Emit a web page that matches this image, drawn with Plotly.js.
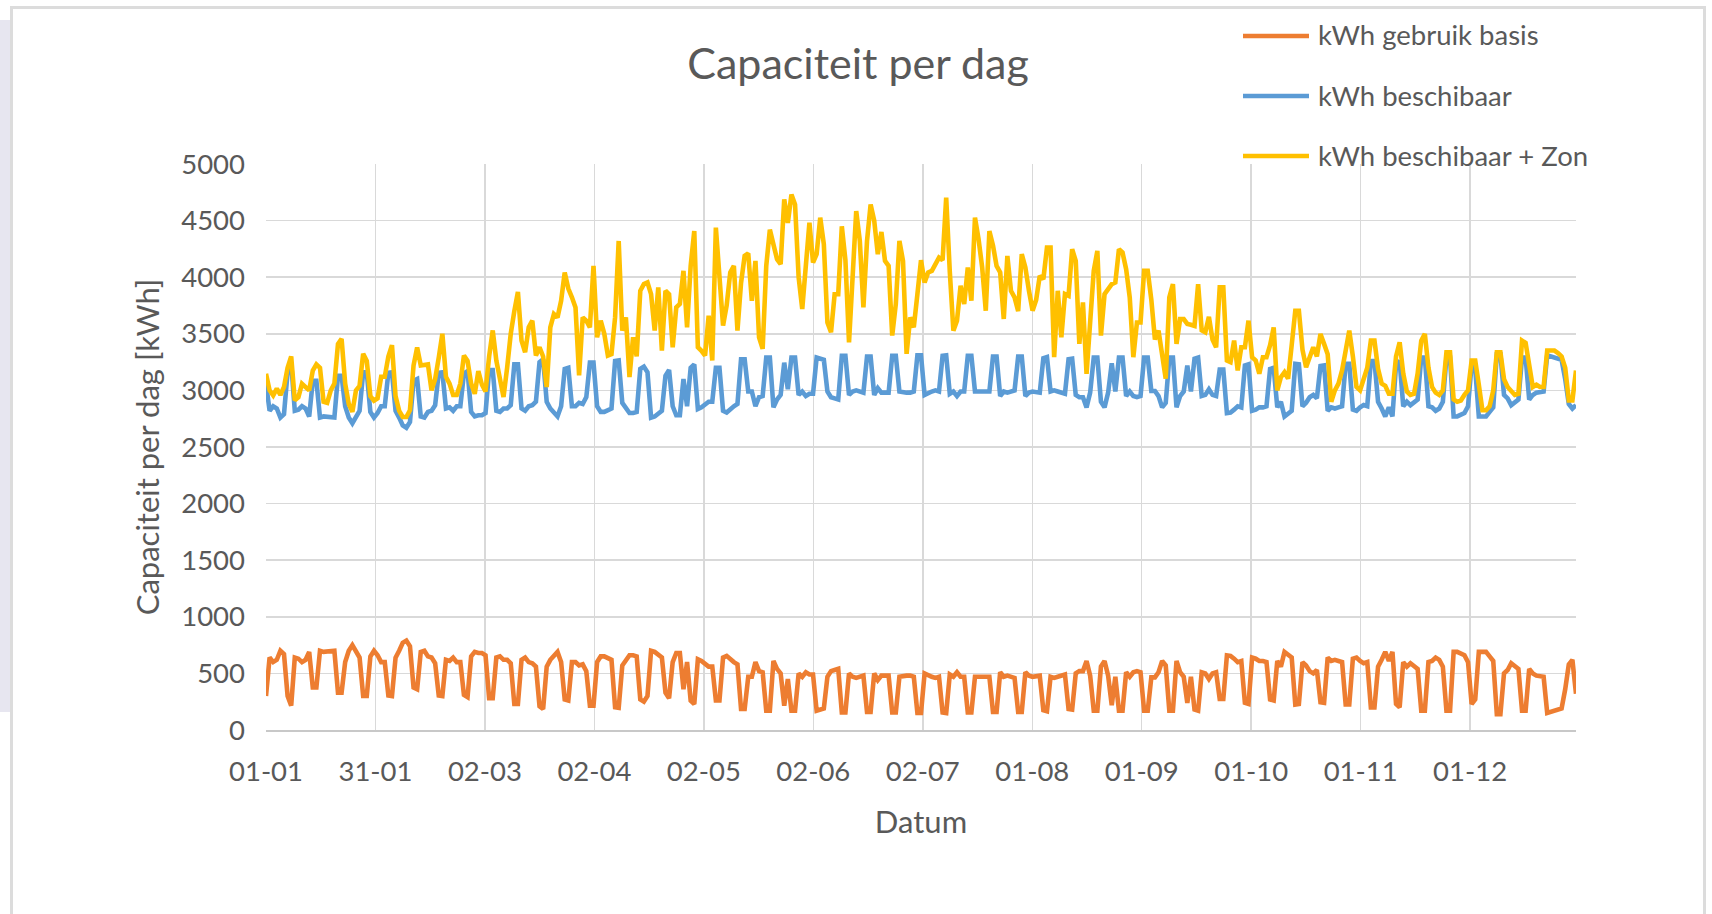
<!DOCTYPE html>
<html><head><meta charset="utf-8">
<script src="https://cdn.plot.ly/plotly-3.0.1.min.js"></script>
<style>
html,body{margin:0;padding:0;width:1712px;height:914px;overflow:hidden;background:#fff;}
#stripe{position:absolute;left:0;top:20px;width:12px;height:692px;background:#e7e6f0;}
#card{position:absolute;left:10px;top:6px;width:1696px;height:930px;border:3px solid #dcdcdc;box-sizing:border-box;background:#fff;}
#chart{position:absolute;left:0;top:0;width:1712px;height:914px;}
</style></head>
<body><div id="stripe"></div><div id="card"></div><div id="chart"></div>
<script>
// Day-by-day values (day 0 = 01-01)
const kwhGebruikBasis = [300,
640,600,620,700,670,300,215,
640,630,600,620,690,375,375,
700,690,690,700,700,330,330,
600,700,750,690,640,300,300,
650,700,660,600,600,305,300,
640,700,770,790,740,375,360,
690,700,650,640,590,305,300,
620,610,640,600,600,310,290,
650,690,680,680,660,280,280,
640,650,620,620,590,230,230,
620,640,600,590,560,210,185,
560,620,650,690,600,270,260,
600,600,570,580,520,215,215,
600,650,650,640,620,200,195,
570,620,660,660,650,270,250,
300,700,690,660,640,330,280,
600,680,680,360,600,260,230,
625,610,590,560,560,260,260,
640,655,620,600,580,185,185,
470,470,600,520,510,170,170,
610,540,500,215,450,170,170,
500,470,510,490,490,170,175,
190,470,520,530,540,155,155,
500,470,460,470,480,160,160,
500,440,480,480,480,155,155,
470,480,480,480,470,150,150,
500,480,470,460,470,155,150,
490,470,510,470,470,155,155,
470,470,470,480,470,160,160,
510,470,480,470,460,160,160,
510,480,470,470,480,175,165,
470,460,470,480,490,185,180,
500,520,520,610,480,170,170,
560,610,480,220,470,170,170,
510,470,510,520,510,170,170,
465,465,510,610,570,170,170,
610,510,470,240,470,180,170,
510,500,450,500,510,275,275,
660,655,630,600,610,240,230,
640,630,610,610,600,270,260,
610,560,690,660,640,225,230,
600,570,520,500,530,245,240,
640,610,620,610,600,225,225,
630,640,610,590,600,200,200,
560,620,690,610,690,230,200,
600,560,590,560,540,170,170,
600,610,640,620,560,170,170,
690,690,680,660,600,230,270,
690,690,690,650,610,140,140,
500,530,590,560,540,170,170,
540,500,480,480,470,150,160,
160,170,190,360,580,620,320];

const kwhBeschikbaar = [3060,
2820,2860,2840,2760,2790,3160,3245,
2820,2830,2860,2840,2770,3085,3085,
2760,2770,2770,2760,2760,3130,3130,
2860,2760,2710,2770,2820,3160,3160,
2810,2760,2800,2860,2860,3155,3160,
2820,2760,2690,2670,2720,3085,3100,
2770,2760,2810,2820,2870,3155,3160,
2840,2850,2820,2860,2860,3150,3170,
2810,2770,2780,2780,2800,3180,3180,
2820,2810,2840,2840,2870,3230,3230,
2840,2820,2860,2870,2900,3250,3275,
2900,2840,2810,2770,2860,3190,3200,
2860,2860,2890,2880,2940,3245,3245,
2860,2810,2810,2820,2840,3260,3265,
2890,2840,2800,2800,2810,3190,3210,
3160,2760,2770,2800,2820,3130,3180,
2860,2780,2780,3100,2860,3200,3230,
2835,2850,2870,2900,2900,3200,3200,
2820,2805,2840,2860,2880,3275,3275,
2990,2990,2860,2940,2950,3290,3290,
2850,2920,2960,3245,3010,3290,3290,
2960,2990,2950,2970,2970,3290,3285,
3270,2990,2940,2930,2920,3305,3305,
2960,2990,3000,2990,2980,3300,3300,
2960,3020,2980,2980,2980,3305,3305,
2990,2980,2980,2980,2990,3310,3310,
2960,2980,2990,3000,2990,3305,3310,
2970,2990,2950,2990,2990,3305,3305,
2990,2990,2990,2980,2990,3300,3300,
2950,2990,2980,2990,3000,3300,3300,
2950,2980,2990,2990,2980,3285,3295,
2990,3000,2990,2980,2970,3275,3280,
2960,2940,2940,2850,2980,3290,3290,
2900,2850,2980,3240,2990,3290,3290,
2950,2990,2950,2940,2950,3290,3290,
2995,2995,2950,2850,2890,3290,3290,
2850,2950,2990,3220,2990,3280,3290,
2950,2960,3010,2960,2950,3185,3185,
2800,2805,2830,2860,2850,3220,3230,
2820,2830,2850,2850,2860,3190,3200,
2850,2900,2770,2800,2820,3235,3230,
2860,2890,2940,2960,2930,3215,3220,
2820,2850,2840,2850,2860,3235,3235,
2830,2820,2850,2870,2860,3260,3260,
2900,2840,2770,2850,2770,3230,3260,
2860,2900,2870,2900,2920,3290,3290,
2860,2850,2820,2840,2900,3290,3290,
2770,2770,2780,2800,2860,3230,3190,
2770,2770,2770,2810,2850,3320,3320,
2960,2930,2870,2900,2920,3290,3290,
2920,2960,2980,2980,2990,3310,3300,
3300,3290,3270,3100,2880,2840,2870];

const kwhBeschikbaarZon = [3147,
3000,2956,3015,2960,3030,3200,3300,
2912,2940,3059,3030,3000,3176,3230,
3200,2900,2890,3000,3060,3410,3455,
3060,2880,2810,3000,3040,3323,3260,
2950,2910,2930,3120,3120,3300,3400,
2950,2820,2765,2765,2825,3220,3380,
3220,3220,3230,3000,3100,3290,3500,
3120,3060,2960,2960,3060,3308,3260,
3060,2970,3170,3050,2990,3300,3530,
3264,3117,2941,3200,3499,3700,3870,
3440,3337,3557,3616,3308,3381,3300,
3030,3557,3675,3645,3792,4042,3900,
3822,3733,3132,3645,3616,3557,4100,
3469,3616,3500,3308,3320,3645,4320,
3528,3645,3117,3469,3300,3880,3939,
3953,3850,3528,3910,3352,3880,3850,
3381,3733,3763,4056,3557,4100,4408,
3381,3350,3308,3660,3264,4438,4000,
3572,3750,4042,4100,3528,3950,4188,
4210,3792,4144,3469,3367,4100,4420,
4276,4159,4115,4687,4480,4731,4643,
4000,3719,4144,4482,4130,4203,4526,
4291,3600,3513,3850,3850,4450,4150,
3425,3939,4584,4320,3733,4320,4643,
4500,4203,4400,4144,4100,3484,3763,
4320,4144,3323,3645,3557,3850,4150,
3953,4042,4056,4115,4173,4150,4702,
4050,3528,3616,3924,3763,4086,3792,
4526,4335,4086,3704,4408,4280,4100,
4042,3631,4188,3880,3822,3700,4203,
4086,3880,3704,3800,4012,3983,4261,
4261,3293,3880,3469,3851,3836,4247,
4144,3411,3777,3147,3675,4056,4232,
3484,3850,3900,3939,3953,4247,4218,
4071,3822,3293,3600,3600,4056,4056,
3800,3450,3528,3300,3103,3822,3939,
3411,3630,3630,3587,3580,3570,3939,
3530,3513,3650,3450,3381,3910,3910,
3264,3250,3440,3176,3381,3381,3616,
3293,3264,3147,3293,3293,3400,3557,
3000,3117,3160,3103,3400,3704,3704,
3360,3205,3300,3381,3300,3499,3411,
3320,2900,3000,3060,3176,3352,3528,
3300,3030,3000,3100,3200,3440,3440,
3190,3060,3040,2970,2970,3300,3425,
3150,2990,2960,2970,3150,3440,3499,
3200,3030,2980,2960,3000,3337,3337,
2920,2900,2910,2960,3000,3264,3264,
3050,2824,2824,2860,3000,3337,3337,
3100,3030,2990,2960,2970,3440,3420,
3200,3030,3050,3030,3030,3352,3352,
3352,3330,3300,3200,2912,2912,3176];

const tickLabels = ['01-01','31-01','02-03','02-04','02-05','02-06','02-07','01-08','01-09','01-10','01-11','01-12'];
const tickPositions = [0, 30.42, 60.83, 91.25, 121.67, 152.08, 182.5, 212.92, 243.33, 273.75, 304.17, 334.58];
const seriesNames = ['kWh gebruik basis', 'kWh beschibaar', 'kWh beschibaar + Zon'];
const seriesColors = ['#ED7D31', '#5B9BD5', '#FFC000'];

const dayIndex = kwhGebruikBasis.map((_, i) => i);
const seriesValues = [kwhGebruikBasis, kwhBeschikbaar, kwhBeschikbaarZon];

const traces = seriesValues.map((vals, k) => ({
  type: 'scatter', mode: 'lines', x: dayIndex, y: vals, name: seriesNames[k],
  line: {color: seriesColors[k], width: 4.6}, hoverinfo: 'x+y+name'
}));

const FONT = 'Lato, Carlito, Calibri, sans-serif';
const plotL = 266, plotR = 1576, plotT = 164, plotB = 730;
const pw = plotR - plotL, ph = plotB - plotT;
const px = v => (v - plotL) / pw;
const py = v => (plotB - v) / ph;

const legendYs = [36, 96, 156];
const shapes = legendYs.map((yy, k) => ({
  type: 'line', xref: 'paper', yref: 'paper',
  x0: px(1243), x1: px(1309), y0: py(yy), y1: py(yy),
  line: {color: seriesColors[k], width: 4.5}
}));
const annotations = legendYs.map((yy, k) => ({
  xref: 'paper', yref: 'paper', x: px(1316), y: py(yy - 1),
  xanchor: 'left', yanchor: 'middle', showarrow: false,
  text: seriesNames[k], font: {family: FONT, size: 27.5, color: '#595959'}
}));

const layout = {
  width: 1712, height: 914,
  margin: {l: plotL, r: 1712 - plotR, t: plotT, b: 914 - plotB, pad: 0},
  paper_bgcolor: 'rgba(0,0,0,0)', plot_bgcolor: 'rgba(0,0,0,0)',
  font: {family: FONT, color: '#595959', size: 27.5},
  title: {text: 'Capaciteit per dag', font: {family: FONT, size: 43, color: '#595959'},
          xref: 'container', yref: 'container', x: 858 / 1712, xanchor: 'center',
          y: 1 - 64 / 914, yanchor: 'middle'},
  showlegend: false,
  xaxis: {
    range: [0, 364], tickmode: 'array', tickvals: tickPositions, ticktext: tickLabels,
    showgrid: true, gridcolor: '#d9d9d9', gridwidth: 1.5, zeroline: false,
    showline: true, linecolor: '#c8c8c8', linewidth: 2, ticks: '',
    ticklabelstandoff: 16, tickfont: {family: FONT, size: 27.5, color: '#595959'},
    title: {text: 'Datum', font: {family: FONT, size: 31, color: '#595959'}, standoff: 25}
  },
  yaxis: {
    range: [0, 5000], tickmode: 'linear', tick0: 0, dtick: 500,
    showgrid: true, gridcolor: '#d9d9d9', gridwidth: 1.5, zeroline: false,
    showline: false, ticks: '', ticklabelstandoff: 20,
    tickfont: {family: FONT, size: 27.5, color: '#595959'},
    title: {text: 'Capaciteit per dag [kWh]', font: {family: FONT, size: 31, color: '#595959'}, standoff: 12}
  },
  shapes: shapes,
  annotations: annotations
};

Plotly.newPlot('chart', traces, layout, {displayModeBar: false, staticPlot: true});
</script></body></html>
